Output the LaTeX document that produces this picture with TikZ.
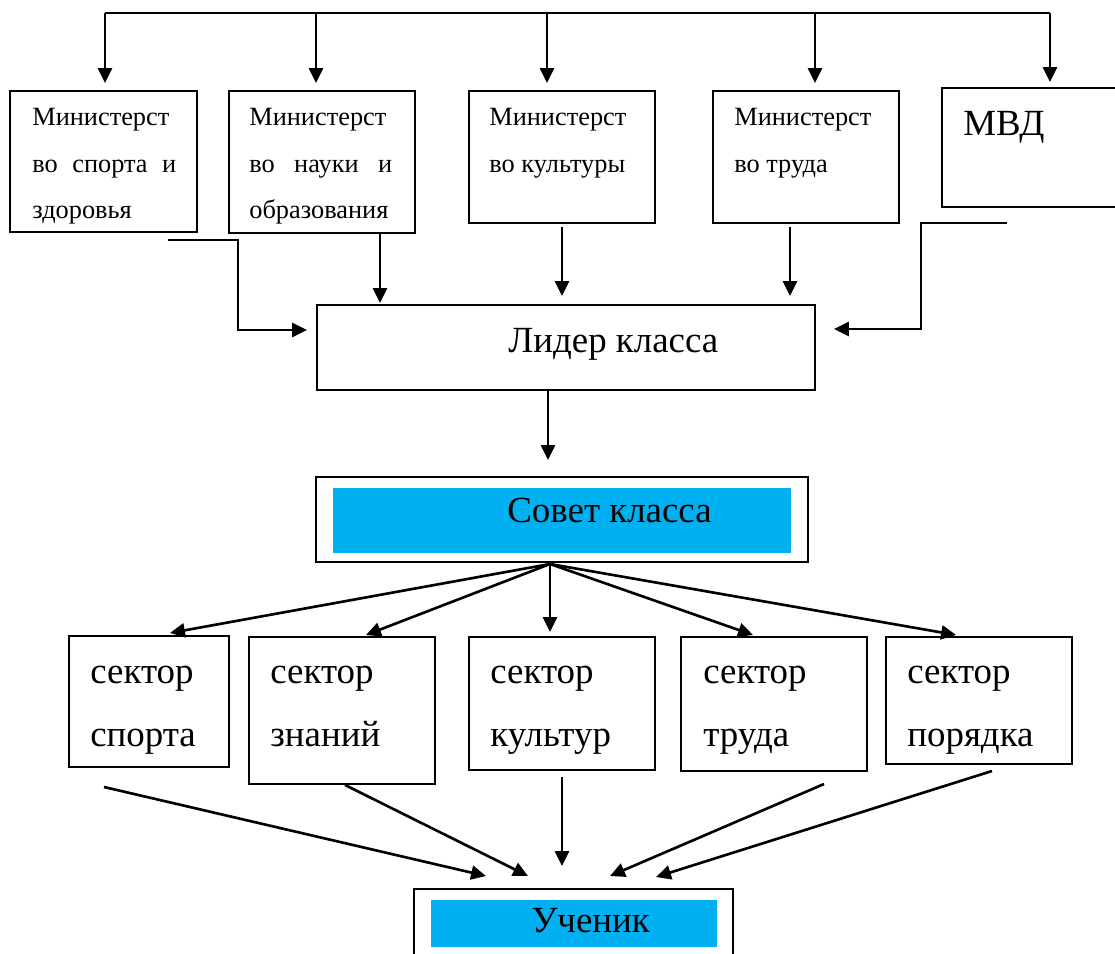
\documentclass[tikz,border=0pt]{standalone}
\usepackage{fontspec}
\setmainfont{Liberation Serif}
\usepackage{xcolor}
\usepackage{tikz}
\usetikzlibrary{arrows.meta,fit,calc}

\definecolor{sovetblue}{HTML}{00B0F0}

\tikzset{
 box/.style = {draw, line width = 1.1pt, inner sep = 0pt},
 bluebar/.style = {fill = sovetblue, inner sep = 0pt},
 link/.style = {line width = 1.5pt},
 arr/.style = {line width = 1.5pt, -{Triangle[length = 8.5pt, width = 8pt]}},
 smalltxt/.style = {anchor = base west, inner sep = 0pt, align = flush left,
   text width = 2.9cm, font = \fontsize{15}{26.4}\selectfont},
 bigtxt/.style = {anchor = base west, inner sep = 0pt, align = flush left,
   text width = 3cm, font = \fontsize{21}{36.3}\selectfont}
}

\begin{document}
\begin{tikzpicture}[x = 0.02cm, y = -0.02cm]

\useasboundingbox (0,0) rectangle (1115,953);

\node[box, fit = {(10,91) (197,232)}] (M1) {};
\node[box, fit = {(229,91) (415,233)}] (M2) {};
\node[box, fit = {(469,91) (655,223)}] (M3) {};
\node[box, fit = {(713,91) (899,223)}] (M4) {};
\node[box, fit = {(942,88) (1130,207)}] (MVD) {};

\node[smalltxt, text width = 2.88cm] (M1txt) at (32,126)
 {Министерст\\во\hfill спорта\hfill и\\здоровья};
\node[smalltxt, text width = 2.86cm] (M2txt) at (249,126)
 {Министерст\\во\hfill науки\hfill и\\образования};
\node[smalltxt] (M3txt) at (489,126) {Министерст\\во культуры};
\node[smalltxt] (M4txt) at (734,126) {Министерст\\во труда};
\node[bigtxt] (MVDtxt) at (963,135) {МВД};

\coordinate (B1) at (105,13);
\coordinate (B2) at (316,13);
\coordinate (B3) at (547,13);
\coordinate (B4) at (815,13);
\coordinate (B5) at (1050,13);

\draw[link] (B1) -- (B5);
\draw[arr] (B1) -- (B1 |- 0,83);
\draw[arr] (B2) -- (B2 |- 0,83);
\draw[arr] (B3) -- (B3 |- 0,83);
\draw[arr] (B4) -- (B4 |- 0,83);
\draw[arr] (B5) -- (B5 |- 0,82);

\node[box, fit = {(317,305) (815,390)}] (L) {};
\node[bigtxt, text width = 6cm] (Ltxt) at (508,352) {Лидер класса};

\coordinate (M1out) at (168,240);
\coordinate (L1in) at (307,330);
\coordinate (MVDout) at (1007,223);
\coordinate (L2in) at (834,329);

\draw[arr] (M1out) -- ++(70,0) |- (L1in);
\draw[arr] (MVDout) -- ++(-86,0) |- (L2in);
\draw[arr] (M2.south -| 380,0) -- (380,303);
\draw[arr] (562,227) -- (562,296);
\draw[arr] (790,227) -- (790,296);

\node[box, fit = {(316,477) (808,562)}] (S) {};
\node[bluebar, fit = {(333,488) (791,553)}] (Sbar) {};
\node[bigtxt, text width = 6cm] (Stxt) at (507,522) {Совет класса};

\draw[arr] (L.south -| 548,0) -- (548,460);

\node[box, fit = {(69,636) (229,767)}] (K1) {};
\node[box, fit = {(249,637) (435,784)}] (K2) {};
\node[box, fit = {(469,637) (655,770)}] (K3) {};
\node[box, fit = {(681,637) (867,771)}] (K4) {};
\node[box, fit = {(886,637) (1072,764)}] (K5) {};

\node[bigtxt] (K1txt) at (90,683) {сектор\\спорта};
\node[bigtxt] (K2txt) at (270,683) {сектор\\знаний};
\node[bigtxt] (K3txt) at (490,683) {сектор\\культур};
\node[bigtxt] (K4txt) at (703,683) {сектор\\труда};
\node[bigtxt] (K5txt) at (907,683) {сектор\\порядка};

\coordinate (F) at (550,564);
\draw[arr] (F) -- (170,633);
\draw[arr] (F) -- (366,635);
\draw[arr] (F) -- (550,632);
\draw[arr] (F) -- (753,635);
\draw[arr] (F) -- (956,635);

\node[box, fit = {(414,889) (733,975)}] (U) {};
\node[bluebar, fit = {(431,900) (717,947)}] (Ubar) {};
\node[bigtxt] (Utxt) at (531,932) {Ученик};

\draw[arr] (104,787) -- (486,876);
\draw[arr] (K2.south -| 345,0) -- (528,876);
\draw[arr] (562,777) -- (562,866);
\draw[arr] (824,784) -- (610,876);
\draw[arr] (992,771) -- (656,877);

\end{tikzpicture}
\end{document}
